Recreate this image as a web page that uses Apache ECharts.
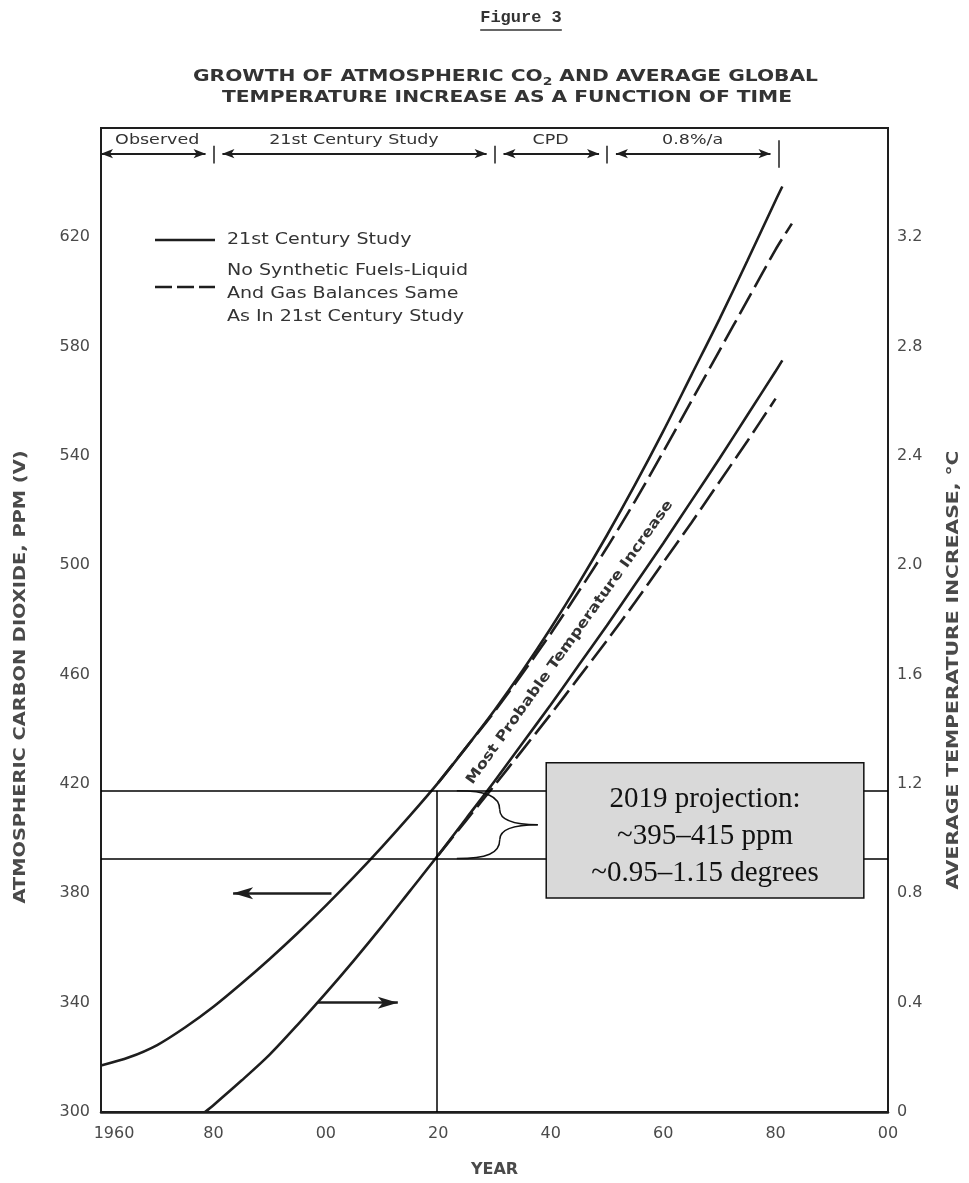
<!DOCTYPE html>
<html>
<head>
<meta charset="utf-8">
<title>Figure 3</title>
<script src="https://cdn.jsdelivr.net/npm/echarts@6/dist/echarts.min.js"></script>
<style>
  html, body { margin: 0; padding: 0; background: #fff; }
  #chart { width: 969px; height: 1183px; }
</style>
</head>
<body>
<div id="chart"></div>
<script>
// values
const co2Years = [1960, 1965, 1970, 1975, 1980, 1985, 1990, 1995, 2000, 2005, 2010, 2015, 2020, 2025, 2030, 2035, 2040, 2045, 2050, 2055, 2060, 2065, 2070, 2075, 2080, 2081.2]
const co2Solid = [317, 320, 324.5, 331, 338.5, 347, 356, 365.5, 375.5, 386, 397, 408.5, 420.5, 433.5, 447, 461.5, 477, 493.5, 511, 529.5, 549, 569.5, 590, 611.5, 633.5, 638.6]

const co2DashYears = [2020, 2025, 2030, 2035, 2040, 2045, 2050, 2055, 2060, 2065, 2070, 2075, 2080, 2082.9]
const co2Dashed = [420.5, 433.5, 446.5, 460.5, 475, 490.5, 506.5, 523.5, 541.5, 560, 578.5, 597, 615.5, 625]

const tempYears = [1978.5, 1980, 1985, 1990, 1995, 2000, 2005, 2010, 2015, 2020, 2025, 2030, 2035, 2040, 2045, 2050, 2055, 2060, 2065, 2070, 2075, 2080, 2081.2]
const tempSolid = [0, 0.025, 0.115, 0.21, 0.32, 0.435, 0.555, 0.68, 0.81, 0.94, 1.075, 1.21, 1.35, 1.49, 1.635, 1.78, 1.93, 2.08, 2.235, 2.39, 2.55, 2.71, 2.75]

const tempDashYears = [2020, 2025, 2030, 2035, 2040, 2045, 2050, 2055, 2060, 2065, 2070, 2075, 2080]
const tempDashed = [0.94, 1.068, 1.195, 1.325, 1.455, 1.59, 1.725, 1.865, 2.01, 2.155, 2.305, 2.455, 2.61]

// study periods across the top of the plot
const periodEdges = [1960, 1980, 2030, 2050, 2080.5]
const periodNames = ['Observed', '21st Century Study', 'CPD', '0.8%/a']

// 2019 projection guide lines
const projYear = 2019.8
const projCo2 = [392.7, 417.5]
const projText = ['2019 projection:', '~395–415 ppm', '~0.95–1.15 degrees']

const ink = '#1e1e1e'
const grey = '#4a4a4a'
const sans = '"DejaVu Sans"'

const zip = (xs, ys) => xs.map((x, i) => [x, ys[i]])

const chart = echarts.init(document.getElementById('chart'))

const yearLabel = v => v === 1960 ? '{first|1960}' : String(v % 100).padStart(2, '0')

// band arrows (gaps around the separator ticks)
const bandY = 650.6
const bandArrows = periodNames.map((n, i) => [
  { coord: [i === 0 ? periodEdges[i] : periodEdges[i] + 1.6, bandY] },
  { coord: [periodEdges[i + 1] - 1.4, bandY] }
])
const bandTicks = periodEdges.slice(1).map((e, i) => {
  const last = i === periodEdges.length - 2
  return [{ coord: [e, last ? 645.5 : 647] }, { coord: [e, last ? 655.5 : 653.5] }]
})

const option = {
  animation: false,
  backgroundColor: '#fff',
  grid: { left: 101, right: 81, top: 128, bottom: 65, show: true, borderColor: ink, borderWidth: 2 },
  xAxis: {
    type: 'value', min: 1960, max: 2100, interval: 20,
    axisLine: { lineStyle: { color: ink, width: 2.5 } },
    axisTick: { show: false },
    splitLine: { show: false },
    axisLabel: {
      formatter: yearLabel, color: grey, fontSize: 16, fontFamily: 'DejaVu Sans', margin: 14,
      rich: { first: { color: grey, fontSize: 16, fontFamily: 'DejaVu Sans', padding: [0, 0, 0, 26] } }
    },
    name: 'YEAR', nameLocation: 'middle', nameGap: 50,
    nameTextStyle: { color: grey, fontSize: 16, fontWeight: 'bold', fontFamily: 'DejaVu Sans' }
  },
  yAxis: [
    {
      type: 'value', min: 300, max: 660, interval: 40,
      axisLine: { show: true, lineStyle: { color: ink, width: 2 } },
      axisTick: { show: false },
      splitLine: { show: false },
      axisLabel: { formatter: v => v > 620 ? '' : String(v), color: grey, fontSize: 16, fontFamily: 'DejaVu Sans', margin: 11 }
    },
    {
      type: 'value', position: 'right', min: 0, max: 3.6, interval: 0.4,
      axisLine: { show: true, lineStyle: { color: ink, width: 2 } },
      axisTick: { show: false },
      splitLine: { show: false },
      axisLabel: { formatter: v => v > 3.3 ? '' : (v === 0 ? '0' : v.toFixed(1)), color: grey, fontSize: 16, fontFamily: 'DejaVu Sans', margin: 9 }
    }
  ],
  series: [
    {
      name: 'CO2 - 21st Century Study', type: 'line', data: zip(co2Years, co2Solid),
      symbol: 'none', smooth: 0.3, lineStyle: { color: ink, width: 2.6 }, z: 4
    },
    {
      name: 'CO2 - No Synthetic Fuels', type: 'line', data: zip(co2DashYears, co2Dashed),
      symbol: 'none', smooth: 0.3, lineStyle: { color: ink, width: 2.6, type: [24, 7] }, z: 3
    },
    {
      name: 'Temperature - 21st Century Study', type: 'line', yAxisIndex: 1, data: zip(tempYears, tempSolid),
      symbol: 'none', smooth: 0.3, lineStyle: { color: ink, width: 2.6 }, z: 4
    },
    {
      name: 'Temperature - No Synthetic Fuels', type: 'line', yAxisIndex: 1, data: zip(tempDashYears, tempDashed),
      symbol: 'none', smooth: 0.3, lineStyle: { color: ink, width: 2.6, type: [24, 7] }, z: 3
    },
    {
      // projection guides
      type: 'line', data: [], silent: true,
      markLine: {
        silent: true, symbol: 'none', label: { show: false },
        lineStyle: { color: '#000', width: 1.5, type: 'solid' },
        data: [
          [{ coord: [1960, projCo2[1]] }, { coord: [2100, projCo2[1]] }],
          [{ coord: [1960, projCo2[0]] }, { coord: [2100, projCo2[0]] }],
          [{ coord: [projYear, 300] }, { coord: [projYear, projCo2[1]] }]
        ]
      }
    },
    {
      // axis pointer arrows
      type: 'line', data: [], silent: true,
      markLine: {
        silent: true, symbol: ['none', 'arrow'], symbolSize: [9, 20], label: { show: false },
        lineStyle: { color: ink, width: 2.5, type: 'solid' },
        data: [
          [{ coord: [2001, 380] }, { coord: [1983.5, 380] }]
        ]
      }
    },
    {
      type: 'line', yAxisIndex: 1, data: [], silent: true,
      markLine: {
        silent: true, symbol: ['none', 'arrow'], symbolSize: [9, 20], label: { show: false },
        lineStyle: { color: ink, width: 2.5, type: 'solid' },
        data: [
          [{ coord: [1998.6, 0.4] }, { coord: [2012.8, 0.4] }]
        ]
      }
    },
    {
      // period band
      type: 'line', data: [], silent: true,
      markLine: {
        silent: true, symbol: ['arrow', 'arrow'], symbolSize: [7, 12], label: { show: false },
        lineStyle: { color: ink, width: 2, type: 'solid' },
        data: bandArrows
      }
    },
    {
      type: 'line', data: [], silent: true,
      markLine: {
        silent: true, symbol: 'none', label: { show: false },
        lineStyle: { color: ink, width: 1.5, type: 'solid' },
        data: bandTicks
      }
    }
  ]
}

chart.setOption(option)

// ---- text and annotations ----
const meas = document.createElement('canvas').getContext('2d')
const textWidth = (t, font) => { meas.font = font; return meas.measureText(t).width }

const txt = (x, y, text, font, extra = {}) => {
  const align = extra.align || 'center'
  return Object.assign({
    type: 'text', x, y, z: 100, silent: true,
    style: {
      text, font, fill: extra.fill || ink,
      textAlign: align, textVerticalAlign: 'middle', align, verticalAlign: 'middle',
      lineHeight: extra.lineHeight
    }
  }, extra.el || {})
}

const px = (x, y) => chart.convertToPixel({ gridIndex: 0 }, [x, y])

const graphic = []

// Figure 3
const figFont = 'bold 17px "Liberation Mono"'
graphic.push(txt(521, 18, 'Figure 3', figFont, { fill: '#333' }))
const figW = textWidth('Figure 3', figFont)
graphic.push({ type: 'line', z: 100, silent: true, shape: { x1: 521 - figW / 2, y1: 30, x2: 521 + figW / 2, y2: 30 }, style: { stroke: '#333', lineWidth: 1.5 } })

// main title (CO2 with a subscript)
const titleFont = 'bold 16px ' + sans
const subFont = 'bold 11px ' + sans
const t1a = 'GROWTH OF ATMOSPHERIC CO'
const t1b = ' AND AVERAGE GLOBAL'
const w1 = textWidth(t1a, titleFont) + textWidth('2', subFont) + textWidth(t1b, titleFont)
const s1 = 625 / w1
const x1 = 505.5 - 625 / 2
graphic.push(txt(x1, 77, t1a, titleFont, { align: 'left', fill: '#333', el: { scaleX: s1 } }))
graphic.push(txt(x1 + textWidth(t1a, titleFont) * s1, 82, '2', subFont, { align: 'left', fill: '#333', el: { scaleX: s1 } }))
graphic.push(txt(x1 + (textWidth(t1a, titleFont) + textWidth('2', subFont)) * s1, 77, t1b, titleFont, { align: 'left', fill: '#333', el: { scaleX: s1 } }))
const t2 = 'TEMPERATURE INCREASE AS A FUNCTION OF TIME'
graphic.push(txt(507, 98, t2, titleFont, { fill: '#333', el: { scaleX: 570 / textWidth(t2, titleFont) } }))

// axis titles
const axFont = 'bold 16px ' + sans
const leftName = 'ATMOSPHERIC CARBON DIOXIDE, PPM (V)'
const rightName = 'AVERAGE TEMPERATURE INCREASE, °C'
graphic.push(txt(21, 677, leftName, axFont, { fill: grey, el: { rotation: Math.PI / 2, scaleX: 453 / textWidth(leftName, axFont) } }))
graphic.push(txt(954, 670, rightName, axFont, { fill: grey, el: { rotation: Math.PI / 2, scaleX: 439 / textWidth(rightName, axFont) } }))

// legend
const legFont = '16px ' + sans
graphic.push({ type: 'line', z: 100, silent: true, shape: { x1: 155, y1: 240, x2: 215, y2: 240 }, style: { stroke: ink, lineWidth: 2.5 } })
graphic.push({ type: 'line', z: 100, silent: true, shape: { x1: 155, y1: 287, x2: 215, y2: 287 }, style: { stroke: ink, lineWidth: 2.5, lineDash: [17, 5] } })
graphic.push(txt(227, 240, '21st Century Study', legFont, { align: 'left', fill: '#333', el: { scaleX: 1.19 } }))
const legLines = ['No Synthetic Fuels-Liquid', 'And Gas Balances Same', 'As In 21st Century Study']
legLines.forEach((l, i) => graphic.push(txt(227, 271 + i * 23, l, legFont, { align: 'left', fill: '#333', el: { scaleX: 1.19 } })))

// period names, centred in their span
const bandFont = '14px ' + sans
periodNames.forEach((n, i) => {
  const p = px((periodEdges[i] + periodEdges[i + 1]) / 2, 655.3)
  graphic.push(txt(p[0], p[1], n, bandFont, { fill: '#333', el: { scaleX: 1.25 } }))
})

// label between the curves
const mp = px(2043.4, 471.8)
const mpText = 'Most Probable Temperature Increase'
const mpFont = 'bold 14px ' + sans
graphic.push(txt(mp[0], mp[1], mpText, mpFont, { fill: '#333', el: { rotation: 54.5 * Math.PI / 180, scaleX: 345 / textWidth(mpText, mpFont) } }))

// projection box
const bTL = px(2039.2, 427.8)
const bBR = px(2095.7, 378.3)
graphic.push({
  type: 'rect', z: 100, silent: true,
  shape: { x: bTL[0], y: bTL[1], width: bBR[0] - bTL[0], height: bBR[1] - bTL[1] },
  style: { fill: '#d9d9d9', stroke: '#111', lineWidth: 1.5 }
})
graphic.push(txt((bTL[0] + bBR[0]) / 2, (bTL[1] + bBR[1]) / 2 + 6, projText.join('\n'), '29px "Liberation Serif"', { fill: '#111', lineHeight: 37 }))

// curly brace from the projection range to the box
const bA = px(2023.3, projCo2[1])
const bB = px(2037.7, projCo2[0])
const W = bB[0] - bA[0]
const H = bB[1] - bA[1]
const P = (fx, fy) => [bA[0] + fx * W, bA[1] + fy * H]
const braceParts = [
  [P(0, 0), P(0.37, 0), P(0.53, 0.08), P(0.53, 0.28)],
  [P(0.53, 0.28), P(0.53, 0.43), P(0.68, 0.5), P(1, 0.5)],
  [P(1, 0.5), P(0.68, 0.5), P(0.53, 0.57), P(0.53, 0.72)],
  [P(0.53, 0.72), P(0.53, 0.92), P(0.37, 1), P(0, 1)]
]
braceParts.forEach(([a, c1, c2, b]) => graphic.push({
  type: 'bezierCurve', z: 100, silent: true,
  shape: { x1: a[0], y1: a[1], cpx1: c1[0], cpy1: c1[1], cpx2: c2[0], cpy2: c2[1], x2: b[0], y2: b[1] },
  style: { fill: null, stroke: '#111', lineWidth: 1.5 }
}))

chart.setOption({ graphic })
</script>
</body>
</html>
